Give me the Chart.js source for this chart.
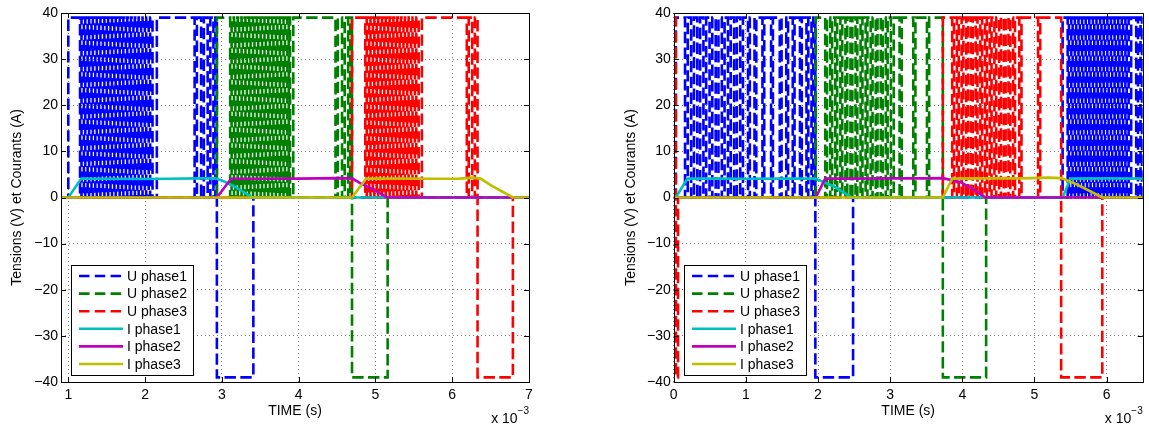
<!DOCTYPE html>
<html>
<head>
<meta charset="utf-8">
<script src="https://cdn.jsdelivr.net/npm/chart.js@4.4.1/dist/chart.umd.min.js"></script>
<style>
  html, body { margin: 0; padding: 0; background: #fff; }
  #wrap { position: relative; width: 1149px; height: 431px; }
  canvas { position: absolute; top: 0; }
</style>
</head>
<body>
<div id="wrap">
  <canvas id="left" width="575" height="431" style="left:0"></canvas>
  <canvas id="right" width="574" height="431" style="left:575px"></canvas>
</div>
<script>
"use strict";

// ---- data (time in ms) ----
const labels = ['U phase1', 'U phase2', 'U phase3', 'I phase1', 'I phase2', 'I phase3'];
const yTicks = [-40, -30, -20, -10, 0, 10, 20, 30, 40];
const xTicksLeft = [1, 2, 3, 4, 5, 6, 7];
const xTicksRight = [0, 1, 2, 3, 4, 5, 6];
const VMAX = 39;

// left plot: voltage windows at +VMAX, low dips (fall, rise, ...) and -VMAX windows
const L_U1_high = [1.00, 2.935];
const L_U1_dips = [1.153,1.172, 1.203,1.221, 1.252,1.271, 1.302,1.320, 1.352,1.371, 1.401,1.419,
  1.451,1.470, 1.501,1.519, 1.550,1.569, 1.600,1.618, 1.650,1.669, 1.699,1.717, 1.749,1.768,
  1.799,1.817, 1.848,1.867, 1.898,1.916, 1.948,1.967, 1.997,2.015, 2.047,2.066, 2.097,2.153,
  2.645,2.675, 2.730,2.765, 2.815,2.850, 2.890,2.915];
const L_U1_neg = [2.935, 3.41];

const L_U2_high = [2.935, 4.695];
const L_U2_dips = [3.108,3.127, 3.158,3.176, 3.207,3.226, 3.257,3.275, 3.307,3.326, 3.356,3.374,
  3.406,3.425, 3.456,3.474, 3.505,3.524, 3.555,3.573, 3.605,3.624, 3.654,3.672, 3.704,3.723,
  3.754,3.772, 3.803,3.822, 3.853,3.871, 3.888,3.930,
  4.480,4.510, 4.565,4.600, 4.645,4.670];
const L_U2_neg = [4.695, 5.159];

const L_U3_high = [4.695, 6.33];
const L_U3_dips = [4.868,4.887, 4.918,4.936, 4.967,4.986, 5.017,5.035, 5.067,5.086, 5.116,5.134,
  5.166,5.185, 5.216,5.234, 5.265,5.284, 5.315,5.333, 5.365,5.384, 5.414,5.432, 5.464,5.483,
  5.514,5.532, 5.563,5.605,
  6.190,6.215, 6.260,6.295];
const L_U3_neg = [6.33, 6.79];

const L_I1_t = [0.905, 1.00, 1.17, 1.50, 1.90, 2.30, 2.70, 2.91, 3.00, 3.15, 3.30, 3.40, 7.00];
const L_I1_v = [0, 0, 4.1, 4.05, 4.0, 4.05, 4.15, 4.15, 3.7, 2.5, 1.0, 0, 0];
const L_I2_t = [0.905, 2.935, 3.12, 3.50, 4.00, 4.50, 4.695, 4.80, 4.98, 5.15, 7.00];
const L_I2_v = [0, 0, 4.05, 4.05, 4.1, 4.2, 4.15, 3.1, 1.7, 0, 0];
const L_I3_t = [0.905, 4.695, 4.88, 5.30, 5.80, 6.10, 6.26, 6.37, 6.50, 6.65, 6.79, 7.00];
const L_I3_v = [0, 0, 4.1, 4.1, 4.05, 4.1, 4.3, 4.1, 2.7, 1.3, 0, 0];

// right plot
const R_U1a_high = [0.03, 1.963];
const R_U1a_dips = [0.157,0.195, 0.242,0.281, 0.327,0.366, 0.412,0.450, 0.497,0.535, 0.582,0.620,
  0.667,0.705, 0.752,0.790, 0.837,0.875, 0.922,0.960,
  1.030,1.055, 1.120,1.145, 1.230,1.255, 1.350,1.375, 1.470,1.495, 1.560,1.585, 1.650,1.675,
  1.750,1.775, 1.840,1.865, 1.910,1.935];
const R_U1a_neg = [1.963, 2.486];
const R_U1b_high = [5.39, 6.5];
const R_U1b_dips = [5.460,5.478, 5.510,5.529, 5.560,5.578, 5.610,5.629, 5.660,5.678, 5.710,5.729,
  5.760,5.778, 5.810,5.829, 5.860,5.878, 5.910,5.929, 5.960,5.978, 6.010,6.029, 6.060,6.078,
  6.110,6.129, 6.160,6.178, 6.210,6.229, 6.260,6.278, 6.305,6.340,
  6.410,6.435, 6.470,6.490];

const R_U2_high = [1.97, 3.73];
const R_U2_dips = [2.100,2.125, 2.170,2.196, 2.240,2.265, 2.310,2.336, 2.380,2.405, 2.450,2.476,
  2.520,2.545, 2.590,2.616, 2.660,2.685, 2.730,2.756, 2.800,2.825, 2.870,2.896, 2.940,2.965,
  3.010,3.050,
  3.130,3.160, 3.320,3.350, 3.510,3.540];
const R_U2_neg = [3.73, 4.33];

const R_U3a_high = [0, 0.03];
const R_U3a_neg = [0.03, 0.06];
const R_U3b_high = [3.73, 5.37];
const R_U3b_dips = [3.860,3.885, 3.925,3.950, 3.990,4.015, 4.055,4.080, 4.120,4.145, 4.185,4.210,
  4.250,4.275, 4.315,4.340, 4.380,4.405, 4.445,4.470, 4.510,4.535, 4.575,4.600, 4.640,4.665,
  4.705,4.730,
  4.790,4.820, 5.050,5.080];
const R_U3b_neg = [5.37, 5.94];

const R_I1_t = [0, 0.03, 0.19, 0.60, 1.00, 1.50, 1.963, 2.22, 2.47, 5.39, 5.50, 6.00, 6.50];
const R_I1_v = [0, 0, 4.1, 4.1, 4.05, 4.1, 4.1, 2.4, 0, 0, 4.1, 4.15, 4.1];
const R_I2_t = [0, 1.97, 2.10, 2.50, 3.00, 3.50, 3.73, 3.98, 4.16, 4.32, 6.50];
const R_I2_v = [0, 0, 4.1, 4.1, 4.15, 4.15, 4.2, 3.3, 1.7, 0, 0];
const R_I3_t = [0, 3.73, 3.86, 4.30, 4.80, 5.20, 5.37, 5.55, 5.78, 5.94, 6.50];
const R_I3_v = [0, 0, 4.1, 4.15, 4.15, 4.3, 4.2, 3.1, 1.3, 0, 0];

// ---- helpers ----
const colors = ['#0000ff', '#008000', '#ff0000', '#00bfbf', '#bf00bf', '#bfbf00'];
const FONT = "'Liberation Sans', Arial, Helvetica, sans-serif";
const DASH = [11.4, 4.4];
Chart.defaults.font.family = FONT;
Chart.defaults.color = '#000';

// step points: each cycle = [highWindow, dips, negWindow]
function voltagePoints(xMin, xMax, cycles) {
  const pts = [];
  cycles.forEach(function (c) {
    const high = c[0], dips = c[1], neg = c[2];
    if (high[0] <= xMin) {
      pts.push({x: xMin, y: VMAX});
    } else {
      if (!pts.length) pts.push({x: xMin, y: 0});
      pts.push({x: high[0], y: VMAX});
    }
    for (let i = 0; i < dips.length; i += 2) {
      pts.push({x: dips[i], y: 0});
      pts.push({x: dips[i + 1], y: VMAX});
    }
    if (neg) {
      pts.push({x: neg[0], y: -VMAX});
      pts.push({x: neg[1], y: 0});
    } else {
      pts.push({x: high[1], y: VMAX});
    }
  });
  pts.push({x: xMax, y: pts[pts.length - 1].y});
  return pts;
}

function currentPoints(t, v) {
  return t.map((x, i) => ({x: x, y: v[i]}));
}

const axesDecor = {
  id: 'axesDecor',
  afterDraw(chart) {
    const ctx = chart.ctx, a = chart.chartArea;
    const sx = chart.scales.x, sy = chart.scales.y;
    ctx.save();
    ctx.strokeStyle = '#000';
    ctx.lineWidth = 1;
    ctx.setLineDash([]);
    ctx.beginPath();
    sx.ticks.forEach(t => {
      const px = Math.round(sx.getPixelForValue(t.value)) + 0.5;
      ctx.moveTo(px, a.bottom); ctx.lineTo(px, a.bottom - 5);
      ctx.moveTo(px, a.top); ctx.lineTo(px, a.top + 5);
    });
    sy.ticks.forEach(t => {
      const py = Math.round(sy.getPixelForValue(t.value)) + 0.5;
      ctx.moveTo(a.left, py); ctx.lineTo(a.left + 5, py);
      ctx.moveTo(a.right, py); ctx.lineTo(a.right - 5, py);
    });
    ctx.stroke();
    ctx.strokeRect(Math.round(a.left) + 0.5, Math.round(a.top) + 0.5,
      Math.round(a.right - a.left), Math.round(a.bottom - a.top));

    // x 10^-3 multiplier
    ctx.fillStyle = '#000';
    ctx.textBaseline = 'alphabetic';
    ctx.font = '10px ' + FONT;
    const supW = ctx.measureText('\u22123').width;
    ctx.textAlign = 'left';
    ctx.fillText('\u22123', a.right - supW, 414);
    ctx.font = '14px ' + FONT;
    ctx.textAlign = 'right';
    ctx.fillText('x 10', a.right - supW, 423);

    // legend box
    const lw = 122, lh = 110;
    const lx = Math.round(a.left + 10), ly = Math.round(a.bottom - 7 - lh);
    ctx.fillStyle = '#fff';
    ctx.fillRect(lx, ly, lw, lh);
    ctx.strokeRect(lx + 0.5, ly + 0.5, lw, lh);
    ctx.font = '14px ' + FONT;
    ctx.textAlign = 'left';
    ctx.textBaseline = 'middle';
    chart.data.datasets.forEach((ds, i) => {
      const y = ly + 11 + i * 17.6;
      ctx.setLineDash(ds.borderDash.length ? [10.5, 5.3] : []);
      ctx.lineWidth = ds.borderWidth;
      ctx.strokeStyle = ds.borderColor;
      ctx.beginPath();
      ctx.moveTo(lx + 8, y);
      ctx.lineTo(lx + 52, y);
      ctx.stroke();
      ctx.setLineDash([]);
      ctx.fillStyle = '#000';
      ctx.fillText(ds.label, lx + 56, y + 1);
    });
    ctx.restore();
  }
};

function makeChart(id, o) {
  const datasets = o.series.map((pts, i) => ({
    label: labels[i],
    data: pts,
    borderColor: colors[i],
    borderWidth: 2.6,
    borderDash: i < 3 ? DASH : [],
    stepped: i < 3 ? 'before' : false,
    pointRadius: 0,
    fill: false,
    tension: 0,
    order: 6 - i
  }));
  return new Chart(document.getElementById(id), {
    type: 'line',
    data: {datasets: datasets},
    options: {
      responsive: false,
      animation: false,
      devicePixelRatio: 1,
      parsing: false,
      events: [],
      layout: {padding: {left: 0, right: o.padRight, top: 13, bottom: 0}},
      plugins: {legend: {display: false}, tooltip: {enabled: false}},
      scales: {
        x: {
          type: 'linear',
          min: o.xMin,
          max: o.xMax,
          afterBuildTicks: s => { s.ticks = o.xTicks.map(v => ({value: v})); },
          afterFit: s => { s.height = 49; },
          grid: {color: 'rgba(0,0,0,0.5)', lineWidth: 1, drawTicks: false},
          border: {display: false, dash: [1, 3]},
          ticks: {padding: 5, font: {size: 14}, color: '#000', maxRotation: 0},
          title: {display: true, text: 'TIME (s)', font: {size: 14}, color: '#000',
            padding: {top: 0, bottom: 11}}
        },
        y: {
          type: 'linear',
          min: -40,
          max: 40,
          afterBuildTicks: s => { s.ticks = yTicks.map(v => ({value: v})); },
          afterFit: s => { s.width = o.yWidth; },
          grid: {color: 'rgba(0,0,0,0.5)', lineWidth: 1, drawTicks: false},
          border: {display: false, dash: [1, 3]},
          ticks: {padding: 3, font: {size: 14}, color: '#000',
            callback: v => v < 0 ? '\u2212' + Math.abs(v) : String(v)},
          title: {display: true, text: 'Tensions (V) et Courants (A)', font: {size: 14}, color: '#000',
            padding: {top: o.yTitlePad, bottom: 0}}
        }
      }
    },
    plugins: [axesDecor]
  });
}

makeChart('left', {
  xMin: 0.905, xMax: 7, xTicks: xTicksLeft, padRight: 46, yWidth: 61, yTitlePad: 9,
  series: [
    voltagePoints(0.905, 7, [[L_U1_high, L_U1_dips, L_U1_neg]]),
    voltagePoints(0.905, 7, [[L_U2_high, L_U2_dips, L_U2_neg]]),
    voltagePoints(0.905, 7, [[L_U3_high, L_U3_dips, L_U3_neg]]),
    currentPoints(L_I1_t, L_I1_v),
    currentPoints(L_I2_t, L_I2_v),
    currentPoints(L_I3_t, L_I3_v)
  ]
});

makeChart('right', {
  xMin: 0, xMax: 6.5, xTicks: xTicksRight, padRight: 6.3, yWidth: 98.7, yTitlePad: 47.6,
  series: [
    voltagePoints(0, 6.5, [[R_U1a_high, R_U1a_dips, R_U1a_neg], [R_U1b_high, R_U1b_dips, null]]),
    voltagePoints(0, 6.5, [[R_U2_high, R_U2_dips, R_U2_neg]]),
    voltagePoints(0, 6.5, [[R_U3a_high, [], R_U3a_neg], [R_U3b_high, R_U3b_dips, R_U3b_neg]]),
    currentPoints(R_I1_t, R_I1_v),
    currentPoints(R_I2_t, R_I2_v),
    currentPoints(R_I3_t, R_I3_v)
  ]
});
</script>
</body>
</html>
